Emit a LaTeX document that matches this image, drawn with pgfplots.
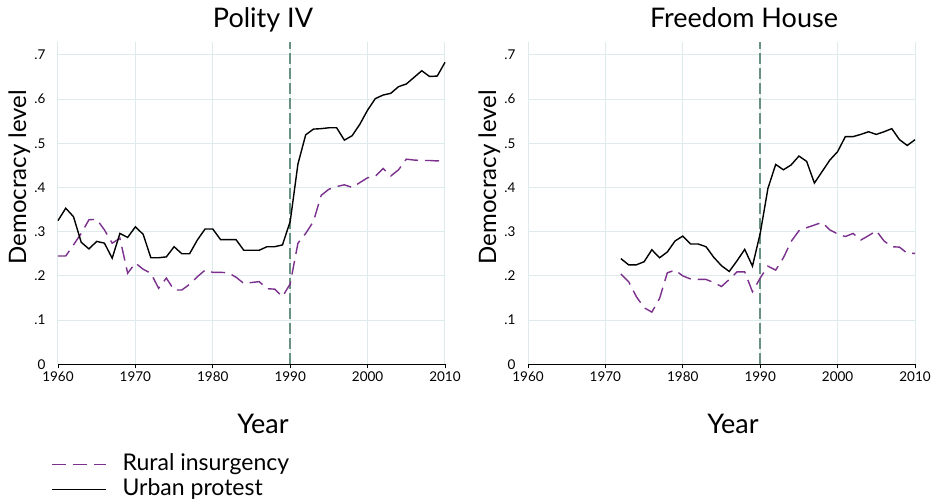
\documentclass[border=0pt]{standalone}
\usepackage{fontspec}
\setmainfont{Lato}
\usepackage{pgfplots}
\usepackage{pgfplotstable}
\pgfplotsset{compat=1.18}

\definecolor{rural}{RGB}{122,48,140}
\definecolor{gridc}{RGB}{222,235,236}
\definecolor{vline}{RGB}{105,145,130}

% Polity IV
\pgfplotstableread{
year rural urban
1960 0.245 0.325
1961 0.245 0.353
1962 0.270 0.334
1963 0.296 0.276
1964 0.327 0.261
1965 0.328 0.278
1966 0.304 0.274
1967 0.274 0.240
1968 0.285 0.296
1969 0.206 0.287
1970 0.229 0.311
1971 0.215 0.294
1972 0.206 0.241
1973 0.172 0.241
1974 0.195 0.243
1975 0.168 0.266
1976 0.168 0.250
1977 0.181 0.250
1978 0.198 0.281
1979 0.213 0.306
1980 0.208 0.306
1981 0.208 0.282
1982 0.207 0.282
1983 0.197 0.282
1984 0.183 0.258
1985 0.185 0.258
1986 0.187 0.258
1987 0.171 0.266
1988 0.170 0.266
1989 0.153 0.270
1990 0.182 0.323
1991 0.274 0.453
1992 0.296 0.519
1993 0.323 0.532
1994 0.382 0.533
1995 0.396 0.535
1996 0.402 0.535
1997 0.406 0.507
1998 0.400 0.517
1999 0.411 0.543
2000 0.422 0.575
2001 0.425 0.601
2002 0.443 0.609
2003 0.426 0.613
2004 0.440 0.628
2005 0.464 0.634
2006 0.462 0.649
2007 0.461 0.664
2008 0.461 0.651
2009 0.460 0.652
2010 0.462 0.683
}\polity

% Freedom House
\pgfplotstableread{
year rural urban
1972 0.204 0.239
1973 0.187 0.225
1974 0.153 0.225
1975 0.128 0.232
1976 0.118 0.259
1977 0.149 0.241
1978 0.207 0.254
1979 0.213 0.279
1980 0.200 0.290
1981 0.193 0.272
1982 0.192 0.272
1983 0.192 0.266
1984 0.185 0.242
1985 0.176 0.223
1986 0.192 0.210
1987 0.209 0.234
1988 0.209 0.260
1989 0.164 0.222
1990 0.195 0.296
1991 0.222 0.398
1992 0.213 0.452
1993 0.241 0.440
1994 0.278 0.451
1995 0.302 0.471
1996 0.309 0.459
1997 0.315 0.410
1998 0.321 0.436
1999 0.304 0.462
2000 0.295 0.481
2001 0.289 0.515
2002 0.296 0.515
2003 0.281 0.520
2004 0.291 0.526
2005 0.302 0.520
2006 0.279 0.526
2007 0.266 0.533
2008 0.265 0.508
2009 0.251 0.495
2010 0.251 0.508
}\freedom

\pgfplotsset{panel/.style={
  scale only axis, width=387pt, height=322.3pt,
  anchor=south west,
  xmin=1960, xmax=2010, ymin=0, ymax=0.729,
  xtick={1960,1970,1980,1990,2000,2010},
  xticklabels={1960,1970,1980,1990,2000,2010},
  ytick={0,0.1,0.2,0.3,0.4,0.5,0.6,0.7},
  yticklabels={0,.1,.2,.3,.4,.5,.6,.7},
  grid=major, major grid style={gridc, line width=1pt},
  axis x line*=bottom, axis y line*=left,
  y axis line style={draw=none},
  x axis line style={black, line width=0.9pt, -},
  ytick style={draw=none}, xtick style={black, line width=0.8pt},
  tick align=outside, major tick length=4pt,
  tick label style={font=\fontsize{13.5}{13.5}\selectfont},
  yticklabel style={xshift=-5pt},
  clip=false,
}}

\begin{document}
\begin{tikzpicture}
\path[use as bounding box] (0,0) rectangle (935pt,499pt);

\begin{axis}[panel, at={(58pt,134.7pt)},
  legend style={at={(-0.018,-0.278)}, anchor=north west, draw=none, fill=none,
    inner sep=0pt, row sep=4pt, font=\fontsize{23}{23}\selectfont,
    nodes={inner sep=0pt, text height=16pt, text depth=5pt},
    /tikz/every odd column/.append style={column sep=16pt}},
  legend cell align=left,
  legend image code/.code={\draw[#1] (0pt,0pt) -- (54pt,0pt);},
]
\addplot[vline, line width=2pt, dash pattern=on 11pt off 4pt, forget plot] coordinates {(1990,0) (1990,0.729)};
\addplot[rural, line width=1.4pt, dash pattern=on 14pt off 7pt] table[x=year, y=rural] {\polity};
\addplot[black, line width=1.4pt] table[x=year, y=urban] {\polity};
\legend{Rural insurgency, Urban protest}
\end{axis}

\begin{axis}[panel, at={(528pt,134.7pt)}]
\addplot[vline, line width=2pt, dash pattern=on 11pt off 4pt, forget plot] coordinates {(1990,0) (1990,0.729)};
\addplot[rural, line width=1.4pt, dash pattern=on 14pt off 7pt] table[x=year, y=rural] {\freedom};
\addplot[black, line width=1.4pt] table[x=year, y=urban] {\freedom};
\end{axis}

\node[font=\fontsize{27}{27}\selectfont, anchor=base] at (263pt,471pt) {Polity IV};
\node[font=\fontsize{27}{27}\selectfont, anchor=base] at (744pt,471pt) {Freedom House};
\node[font=\fontsize{27}{27}\selectfont, anchor=base] at (263pt,66pt) {Year};
\node[font=\fontsize{27}{27}\selectfont, anchor=base] at (733pt,66pt) {Year};
\node[font=\fontsize{24}{24}\selectfont, anchor=base, rotate=90] at (26pt,322pt) {Democracy level};
\node[font=\fontsize{24}{24}\selectfont, anchor=base, rotate=90] at (496pt,322pt) {Democracy level};
\end{tikzpicture}
\end{document}
